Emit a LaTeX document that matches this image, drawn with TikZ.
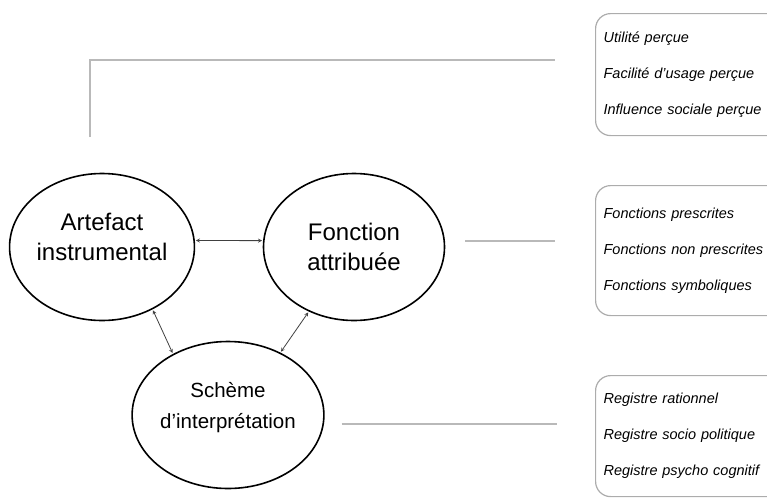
\documentclass[tikz,border=0pt]{standalone}
\usepackage{fontspec}
\setmainfont{Liberation Sans}
\usepackage{tikz}
\usetikzlibrary{shapes.geometric}

\tikzset{
  pole/.style={ellipse, draw, line width=1.6pt, minimum width=181pt, minimum height=147pt,
    align=center, inner sep=0pt, font=\fontsize{24}{30}\selectfont},
  liste/.style={draw=gray!65, line width=1.2pt, rounded corners=15pt, anchor=north west,
    text width=214pt, align=left, inner xsep=8pt, font=\fontsize{14.5}{36}\selectfont\itshape},
  lien/.style={draw=gray!55, line width=2pt},
  fleche/.style={stealth-stealth, draw=black!75, line width=0.8pt, shorten <=1pt, shorten >=1pt},
}

\begin{document}
\begin{tikzpicture}[x=1pt,y=-1pt]
  \useasboundingbox (0,0) rectangle (767,498);
  \clip (0,0) rectangle (767,498);

  \node[pole, text depth=20pt] (art) at (102,247) {Artefact\\instrumental};
  \node[pole] (fon) at (354,247) {Fonction\\attribuée};
  \node[pole, minimum width=187pt, text depth=20pt, font=\fontsize{20.5}{31}\selectfont]
    (sch) at (228,415) {Schème\\d'interprétation};

  \node[liste, minimum height=122pt] (percu) at (595,13)
    {Utilité perçue\\Facilité d'usage perçue\\Influence sociale perçue};
  \node[liste, minimum height=130pt] (fonctions) at (595,185)
    {Fonctions prescrites\\Fonctions non prescrites\\Fonctions symboliques};
  \node[liste, minimum height=121pt] (registres) at (595,375)
    {Registre rationnel\\Registre socio politique\\Registre psycho cognitif};

  % liens vers les listes
  \coordinate (haut) at (90,137);
  \draw[lien] (haut) |- ([xshift=-40pt,yshift=15pt]percu.west);
  \draw[lien] ([xshift=20pt,yshift=6pt]fon.east) -- ++(90pt,0);
  \draw[lien] ([xshift=17pt,yshift=-9pt]sch.east) -- ++(215pt,0);

  % relations entre les poles
  \draw[fleche] (art.4) -- (fon.176);
  \draw[fleche] (art.-51) -- (sch.132);
  \draw[fleche] (fon.235) -- (sch.50);
\end{tikzpicture}
\end{document}
